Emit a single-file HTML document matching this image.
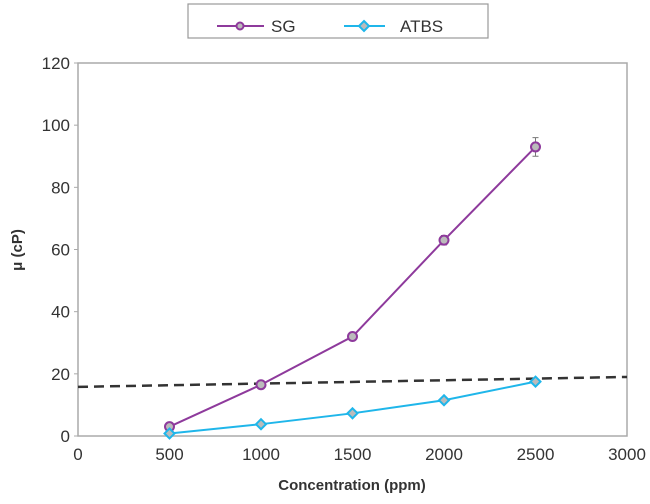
<!DOCTYPE html>
<html><head><meta charset="utf-8"><style>
body{margin:0;background:#fff;}
svg text{font-family:"Liberation Sans",sans-serif;fill:#333;}
</style></head><body>
<svg id="chart" width="650" height="499">
<g>
<rect x="188" y="4" width="300" height="34" fill="#fff" stroke="#999" stroke-width="1.2"/>
<g><line x1="217" y1="26" x2="264" y2="26" stroke="#8e3a9c" stroke-width="2"/><circle cx="240" cy="26" r="3.5" fill="#bbb" stroke="#8e3a9c" stroke-width="2"/><text x="271" y="32" font-size="17">SG</text></g>
<g><line x1="344" y1="26" x2="385" y2="26" stroke="#1fb6ea" stroke-width="2"/><path d="M364 21 L369 26 L364 31 L359 26Z" fill="#bbb" stroke="#1fb6ea" stroke-width="2"/><text x="400" y="32" font-size="17">ATBS</text></g>
</g>
<text x="22" y="250" font-size="15" font-weight="bold" transform="rotate(-90 22 250)" text-anchor="middle">μ (cP)</text>
<text x="352" y="490" font-size="15" font-weight="bold" text-anchor="middle">Concentration (ppm)</text>
<g id="axes"></g><g id="marks"></g>
</svg>
<script>
const xTicks=[0,500,1000,1500,2000,2500,3000];
const yTicks=[0,20,40,60,80,100,120];
const concentrations=[500,1000,1500,2000,2500];
const sgValues=[3,16.5,32,63,93];
const sgErrors=[0.5,0.8,1,1.5,3];
const atbsValues=[0.8,3.8,7.3,11.5,17.5];
const thresholdX=[0,3000];
const thresholdY=[15.8,19];
const X0=78,X1=627,Y0=436,Y1=63;
const sx=v=>X0+(X1-X0)*v/3000, sy=v=>Y0-(Y0-Y1)*v/120;
const NS="http://www.w3.org/2000/svg";
function mk(t,a,p){const e=document.createElementNS(NS,t);for(const k in a)e.setAttribute(k,a[k]);p.appendChild(e);return e;}
const ax=document.getElementById('axes'),mk2=document.getElementById('marks');
let f=mk('rect',{x:X0,y:Y1,width:X1-X0,height:Y0-Y1,fill:'none',stroke:'#aaa','stroke-width':1.5},ax);


xTicks.forEach(v=>{let t=mk('text',{x:sx(v),y:Y0+24,'font-size':17,'text-anchor':'middle'},ax);t.textContent=v;

});
yTicks.forEach(v=>{mk('line',{x1:X0-4,x2:X0,y1:sy(v),y2:sy(v),stroke:'#aaa'},ax);let t=mk('text',{x:X0-8,y:sy(v)+6,'font-size':17,'text-anchor':'end'},ax);t.textContent=v;

});
let d=mk('line',{x1:sx(thresholdX[0]),y1:sy(thresholdY[0]),x2:sx(thresholdX[1]),y2:sy(thresholdY[1]),stroke:'#333','stroke-width':2.5,'stroke-dasharray':'10,6'},mk2);


let p1=mk('polyline',{points:concentrations.map((c,i)=>sx(c)+','+sy(sgValues[i])).join(' '),fill:'none',stroke:'#8e3a9c','stroke-width':2},mk2);


let p2=mk('polyline',{points:concentrations.map((c,i)=>sx(c)+','+sy(atbsValues[i])).join(' '),fill:'none',stroke:'#1fb6ea','stroke-width':2},mk2);


concentrations.forEach((c,i)=>{
 const x=sx(c),y=sy(sgValues[i]),e=sgErrors[i];
 let eb=mk('path',{d:`M${x} ${sy(sgValues[i]+e)}V${sy(sgValues[i]-e)}M${x-3} ${sy(sgValues[i]+e)}H${x+3}M${x-3} ${sy(sgValues[i]-e)}H${x+3}`,stroke:'#777',fill:'none'},mk2);
 
 
 let m=mk('circle',{cx:x,cy:y,r:4.5,fill:'#bbb',stroke:'#8e3a9c','stroke-width':2},mk2);
 
 
 const ya=sy(atbsValues[i]);
 let q=mk('path',{d:`M${x} ${ya-5}L${x+5} ${ya}L${x} ${ya+5}L${x-5} ${ya}Z`,fill:'#bbb',stroke:'#1fb6ea','stroke-width':2},mk2);
 
 
});
</script>
</body></html>
